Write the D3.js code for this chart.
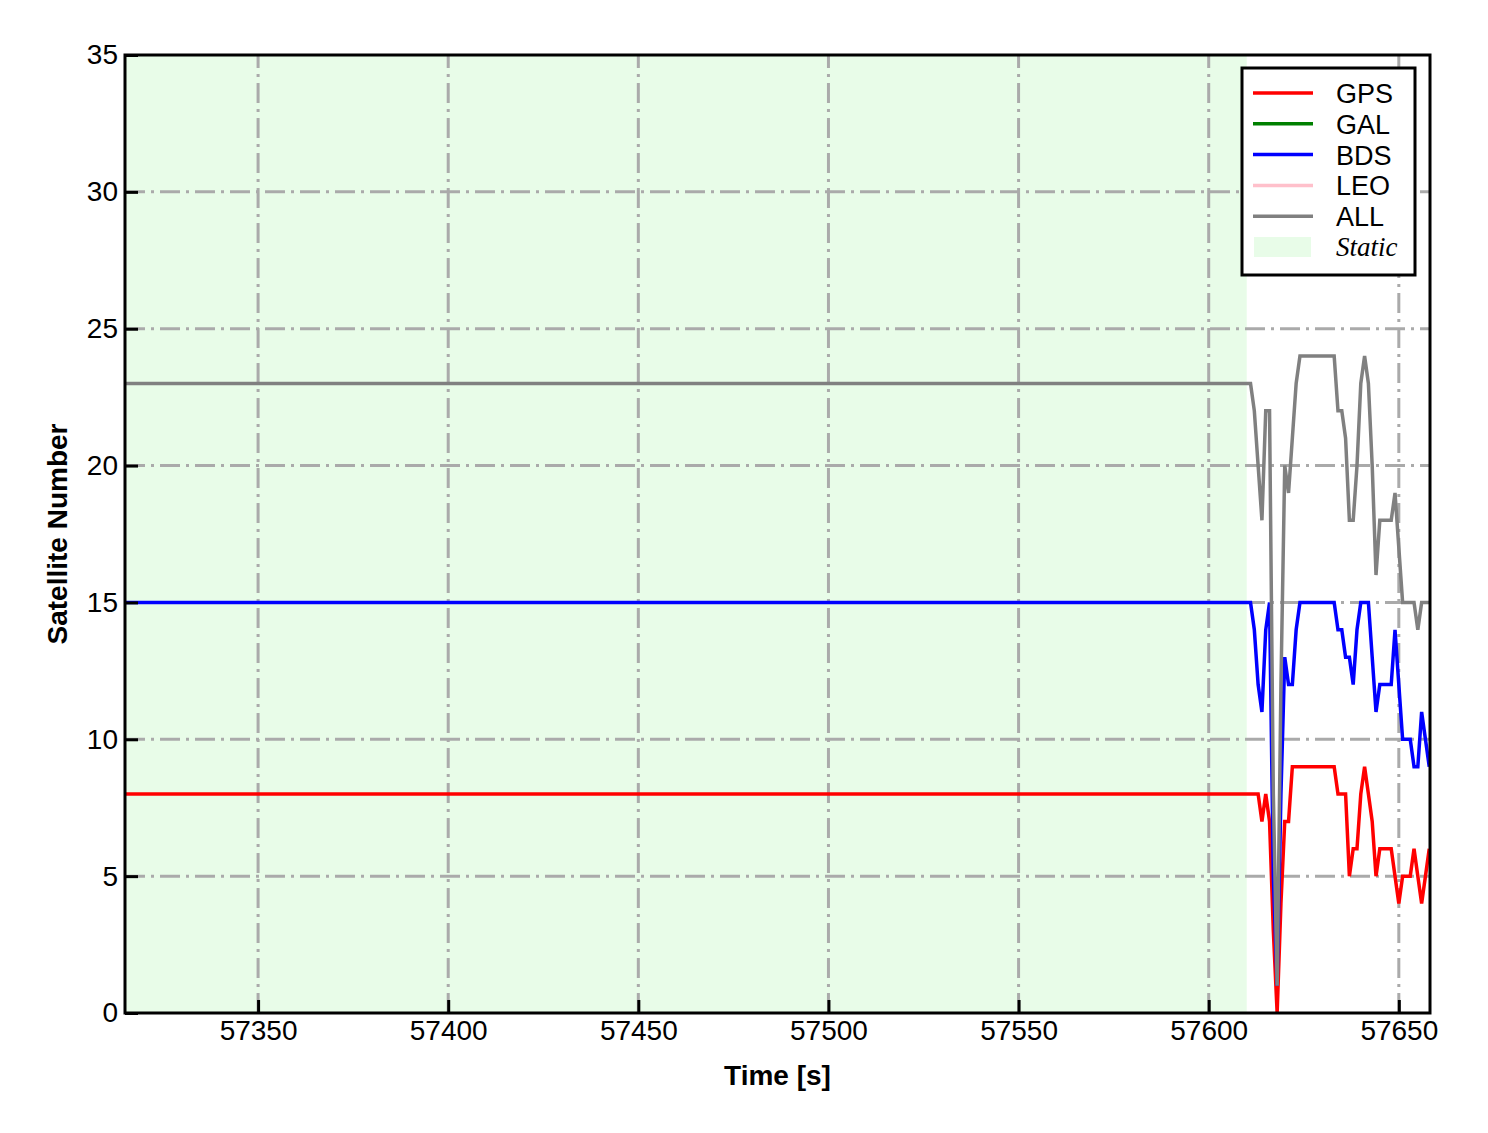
<!DOCTYPE html>
<html>
<head>
<meta charset="utf-8">
<script src="https://cdn.jsdelivr.net/npm/d3@7"></script>
<style>
  body { margin: 0; background: #ffffff; }
  text { font-family: "Liberation Sans", Arial, sans-serif; }
</style>
</head>
<body>
<script>
// Chart Parameters
var svgWidth = 1488;
var svgHeight = 1133;

var margin = { top: 55, right: 58, bottom: 120, left: 125 };

var width = svgWidth - margin.left - margin.right;
var height = svgHeight - margin.top - margin.bottom;

// data (time in s, satellite counts)
var times = [57315, 57610, 57611, 57612, 57613, 57614, 57615, 57616, 57617, 57618, 57619,
             57620, 57621, 57622, 57623, 57624, 57625, 57626, 57627, 57628, 57629,
             57630, 57631, 57632, 57633, 57634, 57635, 57636, 57637, 57638, 57639,
             57640, 57641, 57642, 57643, 57644, 57645, 57646, 57647, 57648, 57649,
             57650, 57651, 57652, 57653, 57654, 57655, 57656, 57657, 57658];

var gpsCount = [8, 8, 8, 8, 8, 7, 8, 7, 3, 0, 4,
                7, 7, 9, 9, 9, 9, 9, 9, 9, 9,
                9, 9, 9, 9, 8, 8, 8, 5, 6, 6,
                8, 9, 8, 7, 5, 6, 6, 6, 6, 5,
                4, 5, 5, 5, 6, 5, 4, 5, 6];

var galCount = [];

var bdsCount = [15, 15, 15, 14, 12, 11, 14, 15, 5, 1, 8,
                13, 12, 12, 14, 15, 15, 15, 15, 15, 15,
                15, 15, 15, 15, 14, 14, 13, 13, 12, 14,
                15, 15, 15, 13, 11, 12, 12, 12, 12, 14,
                12, 10, 10, 10, 9, 9, 11, 10, 9];

var leoCount = [];

var allCount = [23, 23, 23, 22, 20, 18, 22, 22, 8, 1, 12,
                20, 19, 21, 23, 24, 24, 24, 24, 24, 24,
                24, 24, 24, 24, 22, 22, 21, 18, 18, 20,
                23, 24, 23, 20, 16, 18, 18, 18, 18, 19,
                17, 15, 15, 15, 15, 14, 15, 15, 15];

var staticSpan = [57315, 57610];

var xTicks = [57350, 57400, 57450, 57500, 57550, 57600, 57650];
var yTicks = [0, 5, 10, 15, 20, 25, 30, 35];

var seriesNames = ["GPS", "GAL", "BDS", "LEO", "ALL"];
var seriesColors = ["#ff0000", "#008000", "#0000ff", "#ffc0cb", "#808080"];
var seriesValues = [gpsCount, galCount, bdsCount, leoCount, allCount];

var svg = d3.select("body")
            .append("svg")
            .attr("width", svgWidth)
            .attr("height", svgHeight);

var chartGroup = svg.append("g")
                    .attr("transform", `translate(${margin.left}, ${margin.top})`);

// scales
var xScale = d3.scaleLinear().domain([57315, 57658.2]).range([0, width]);
var yScale = d3.scaleLinear().domain([0, 35]).range([height, 0]);

// static background
chartGroup.append("rect")
    .attr("x", xScale(staticSpan[0]))
    .attr("y", 0)
    .attr("width", xScale(staticSpan[1]) - xScale(staticSpan[0]))
    .attr("height", height)
    .attr("fill", "#e8fce8");

// grid, dash-dot
var gridDash = "20,6,3,6";
chartGroup.append("g")
    .selectAll("line")
    .data(xTicks)
    .enter()
    .append("line")
    .attr("x1", d => xScale(d)).attr("x2", d => xScale(d))
    .attr("y1", height).attr("y2", 0)
    .attr("stroke", "#aaaaaa")
    .attr("stroke-width", 3)
    .attr("stroke-dasharray", gridDash);

chartGroup.append("g")
    .selectAll("line")
    .data(yTicks.filter(d => d > 0 && d < 35))
    .enter()
    .append("line")
    .attr("x1", 0).attr("x2", width)
    .attr("y1", d => yScale(d)).attr("y2", d => yScale(d))
    .attr("stroke", "#aaaaaa")
    .attr("stroke-width", 3)
    .attr("stroke-dasharray", gridDash);

// lines
var lineGen = d3.line()
    .x((d, i) => xScale(times[i]))
    .y(d => yScale(d));

seriesValues.forEach(function(vals, k) {
    if (!vals.length) return;
    chartGroup.append("path")
        .datum(vals)
        .attr("d", lineGen)
        .attr("fill", "none")
        .attr("stroke", seriesColors[k])
        .attr("stroke-width", 3.5)
        .attr("stroke-linejoin", "miter");
});

// axes with inward ticks
var bottomAxis = d3.axisBottom(xScale).tickValues(xTicks).tickSize(-13).tickPadding(7).tickFormat(d3.format("d"));
var leftAxis = d3.axisLeft(yScale).tickValues(yTicks).tickSize(-13).tickPadding(7).tickFormat(d3.format("d"));

var xAxisG = chartGroup.append("g")
    .attr("transform", `translate(0, ${height})`)
    .call(bottomAxis);
var yAxisG = chartGroup.append("g").call(leftAxis);

[xAxisG, yAxisG].forEach(function(g) {
    g.select(".domain").remove();
    g.selectAll(".tick line").attr("stroke", "#000").attr("stroke-width", 3);
    g.selectAll(".tick text")
        .attr("fill", "#000")
        .style("font-size", "28px")
        .style("font-family", "'Liberation Sans', Arial, sans-serif");
});

// frame
chartGroup.append("rect")
    .attr("x", 0).attr("y", 0)
    .attr("width", width).attr("height", height)
    .attr("fill", "none")
    .attr("stroke", "#000")
    .attr("stroke-width", 3);

// axis titles
chartGroup.append("text")
    .attr("x", width / 2)
    .attr("y", height + 72)
    .attr("text-anchor", "middle")
    .style("font-size", "28px")
    .style("font-weight", "bold")
    .text("Time [s]");

chartGroup.append("text")
    .attr("transform", `translate(${-58}, ${height / 2}) rotate(-90)`)
    .attr("text-anchor", "middle")
    .style("font-size", "28px")
    .style("font-weight", "bold")
    .text("Satellite Number");

// legend
var legend = svg.append("g").attr("transform", "translate(1242, 68)");
legend.append("rect")
    .attr("width", 173).attr("height", 207)
    .attr("fill", "#fff")
    .attr("stroke", "#000")
    .attr("stroke-width", 3);

seriesNames.forEach(function(name, k) {
    var yy = 25 + k * 30.8;
    legend.append("line")
        .attr("x1", 11).attr("x2", 71)
        .attr("y1", yy).attr("y2", yy)
        .attr("stroke", seriesColors[k])
        .attr("stroke-width", 3.5);
    legend.append("text")
        .attr("x", 94).attr("y", yy + 10)
        .style("font-size", "27px")
        .text(name);
});

var staticY = 25 + 5 * 30.8;
legend.append("rect")
    .attr("x", 12).attr("y", staticY - 10)
    .attr("width", 57).attr("height", 20)
    .attr("fill", "#e8fce8");
legend.append("text")
    .attr("x", 94).attr("y", staticY + 9)
    .style("font-size", "27px")
    .style("font-family", "'Liberation Serif', 'Times New Roman', serif")
    .style("font-style", "italic")
    .text("Static");
</script>
</body>
</html>
